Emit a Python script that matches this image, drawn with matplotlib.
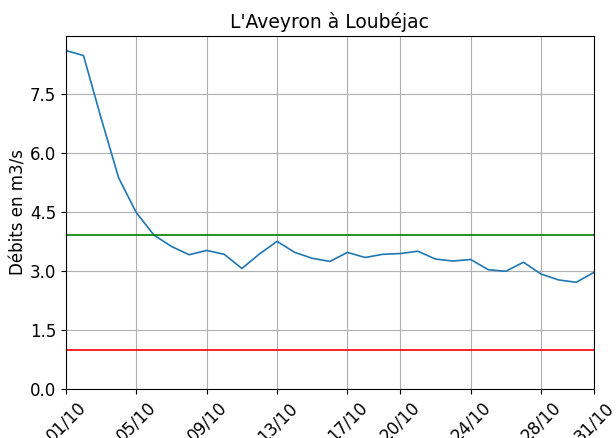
import matplotlib.pyplot as plt
import numpy as np

# débits journaliers octobre
days = list(range(1, 32))
debits = [8.60, 8.47, 6.88, 5.36, 4.48, 3.91, 3.62, 3.41, 3.52, 3.42,
          3.06, 3.43, 3.75, 3.47, 3.32, 3.24, 3.47, 3.34, 3.42, 3.44,
          3.50, 3.30, 3.25, 3.29, 3.03, 2.99, 3.22, 2.92, 2.77, 2.71, 2.96]
seuil_haut = 3.9
seuil_bas = 1.0
tick_days = [1, 5, 9, 13, 17, 20, 24, 28, 31]
tick_labels = ["%02d/10" % d for d in tick_days]
y_ticks = [0.0, 1.5, 3.0, 4.5, 6.0, 7.5]

plt.rcParams['font.size'] = 12

fig = plt.figure(figsize=(6.16, 4.38), dpi=100)
ax = fig.add_axes([0.107, 0.112, 0.857, 0.806])

ax.plot(days, debits, color='#1f77b4', linewidth=1.2)
ax.axhline(seuil_haut, color='green', linewidth=1.2)
ax.axhline(seuil_bas, color='red', linewidth=1.2)

ax.set_xlim(days[0], days[-1])
ax.set_ylim(0, 8.97)
ax.set_xticks(tick_days)
ax.set_xticklabels(tick_labels, rotation=45)
ax.set_yticks(y_ticks)
ax.set_yticklabels(["%.1f" % v for v in y_ticks])
ax.grid(True)
ax.set_ylabel("Débits en m3/s", labelpad=2)
ax.set_title("L'Aveyron à Loubéjac", fontsize=13.5)

plt.savefig('out.png', dpi=100)
